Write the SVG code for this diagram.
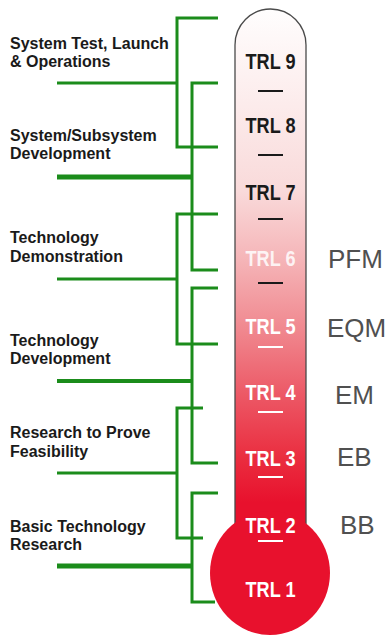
<svg xmlns="http://www.w3.org/2000/svg" width="389" height="636" viewBox="0 0 389 636">
  <defs>
    <linearGradient id="tubeFill" x1="0" y1="0" x2="0" y2="636" gradientUnits="userSpaceOnUse">
      <stop offset="0" stop-color="#ffffff"/>
      <stop offset="0.12" stop-color="#fdf1f1"/>
      <stop offset="0.3" stop-color="#f9dada"/>
      <stop offset="0.41" stop-color="#f5b4b7"/>
      <stop offset="0.52" stop-color="#f0878e"/>
      <stop offset="0.63" stop-color="#ec5462"/>
      <stop offset="0.72" stop-color="#ea2d3f"/>
      <stop offset="0.79" stop-color="#e8112d"/>
    </linearGradient>
  </defs>
  <style>
    .stage { font-family: "Liberation Sans", Arial, sans-serif; font-weight: bold; font-size: 16px; fill: #1a1a1a; }
    .trl { font-family: "Liberation Sans Narrow", "Liberation Sans", Arial, sans-serif; font-weight: bold; font-size: 22px; text-anchor: middle; }
    .dark { fill: #1a1a1a; }
    .light { fill: #ffffff; }
    .model { font-family: "Liberation Sans", Arial, sans-serif; font-size: 26px; fill: #505050; }
    .tick { stroke-width: 2; }
    .tick.dark { stroke: #1a1a1a; }
    .tick.light { stroke: #ffffff; }
    .bracket { fill: none; stroke: #1b8c1b; stroke-width: 3; }
  </style>

  <!-- thermometer body: tube with rounded cap, bulb drawn over its lower end -->
  <g id="thermometer">
    <path d="M235,530 V45 A35.5,36 0 0 1 306,45 V530" fill="url(#tubeFill)" stroke="#4a4a4a" stroke-width="1.3"/>
    <ellipse cx="270" cy="573" rx="60" ry="62" fill="#e8112d"/>
  </g>

  <!-- connectors: stage brackets -->
  <g id="connectors" class="bracket">
    <path d="M218,18 H177 V147 H218"/>
    <path d="M57,83 H177"/>
    <path d="M218,83 H192 V270 H218"/>
    <path d="M57,177 H192" stroke-width="5"/>
    <path d="M218,214 H177 V344 H218"/>
    <path d="M57,279 H177"/>
    <path d="M218,288 H192 V463 H218"/>
    <path d="M57,381 H192" stroke-width="4"/>
    <path d="M203,408 H177 V538 H203"/>
    <path d="M57,473 H177"/>
    <path d="M218,493 H192 V602 H215"/>
    <path d="M57,566 H192" stroke-width="5"/>
  </g>

  <!-- stage labels -->
  <g id="stage-system-test" class="stage">
    <text x="10" y="49">System Test, Launch</text>
    <text x="10" y="67">&amp; Operations</text>
  </g>
  <g id="stage-system-dev" class="stage">
    <text x="10" y="141">System/Subsystem</text>
    <text x="10" y="159">Development</text>
  </g>
  <g id="stage-tech-demo" class="stage">
    <text x="10" y="243">Technology</text>
    <text x="10" y="262">Demonstration</text>
  </g>
  <g id="stage-tech-dev" class="stage">
    <text x="10" y="346">Technology</text>
    <text x="10" y="364">Development</text>
  </g>
  <g id="stage-feasibility" class="stage">
    <text x="10" y="438">Research to Prove</text>
    <text x="10" y="457">Feasibility</text>
  </g>
  <g id="stage-basic" class="stage">
    <text x="10" y="532">Basic Technology</text>
    <text x="10" y="550">Research</text>
  </g>

  <!-- readiness levels -->
  <g id="trl9"><text class="trl dark" x="270.5" y="69" textLength="50" lengthAdjust="spacingAndGlyphs">TRL 9</text><line class="tick dark" x1="258" y1="91" x2="283" y2="91"/></g>
  <g id="trl8"><text class="trl dark" x="270.5" y="133" textLength="50" lengthAdjust="spacingAndGlyphs">TRL 8</text><line class="tick dark" x1="258" y1="155" x2="283" y2="155"/></g>
  <g id="trl7"><text class="trl dark" x="270.5" y="200" textLength="50" lengthAdjust="spacingAndGlyphs">TRL 7</text><line class="tick dark" x1="258" y1="219" x2="283" y2="219"/></g>
  <g id="trl6"><text class="trl light" x="270.5" y="266" textLength="50" lengthAdjust="spacingAndGlyphs" fill-opacity="0.85">TRL 6</text><line class="tick dark" x1="258" y1="283" x2="283" y2="283"/></g>
  <g id="trl5"><text class="trl light" x="270.5" y="334" textLength="50" lengthAdjust="spacingAndGlyphs">TRL 5</text><line class="tick light" x1="258" y1="347" x2="283" y2="347"/></g>
  <g id="trl4"><text class="trl light" x="270.5" y="400" textLength="50" lengthAdjust="spacingAndGlyphs">TRL 4</text><line class="tick light" x1="258" y1="412" x2="283" y2="412"/></g>
  <g id="trl3"><text class="trl light" x="270.5" y="466" textLength="50" lengthAdjust="spacingAndGlyphs">TRL 3</text><line class="tick light" x1="258" y1="477" x2="283" y2="477"/></g>
  <g id="trl2"><text class="trl light" x="270.5" y="533" textLength="50" lengthAdjust="spacingAndGlyphs">TRL 2</text><line class="tick light" x1="258" y1="541" x2="283" y2="541"/></g>
  <g id="trl1"><text class="trl light" x="270.5" y="597" textLength="50" lengthAdjust="spacingAndGlyphs">TRL 1</text></g>

  <!-- model designations -->
  <g id="model-pfm"><text class="model" x="328" y="268">PFM</text></g>
  <g id="model-eqm"><text class="model" x="327" y="337">EQM</text></g>
  <g id="model-em"><text class="model" x="335" y="404">EM</text></g>
  <g id="model-eb"><text class="model" x="337" y="466">EB</text></g>
  <g id="model-bb"><text class="model" x="340" y="534">BB</text></g>
</svg>
